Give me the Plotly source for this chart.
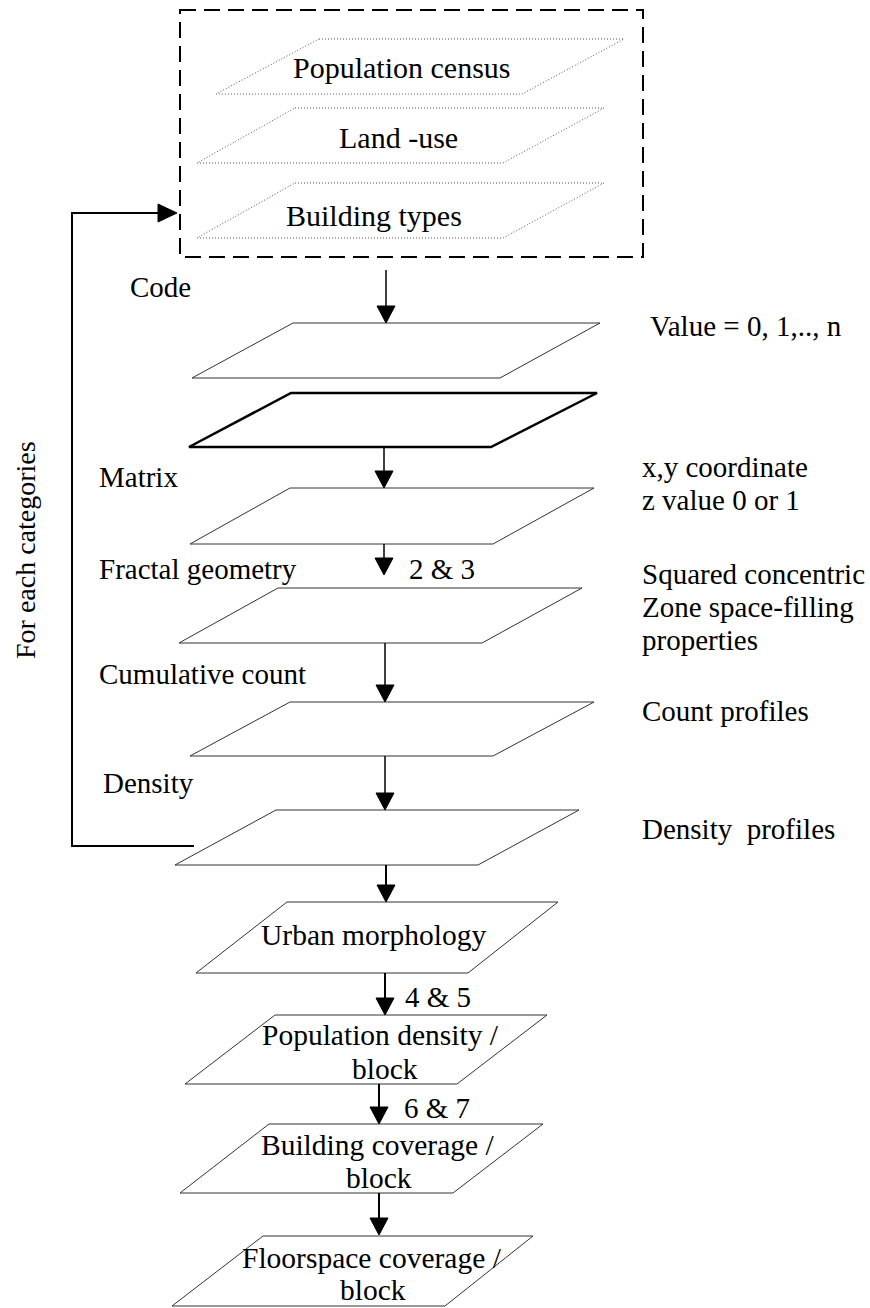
import plotly.graph_objects as go

# ---------------- data (labels) ----------------
input_layers = ["Population census", "Land -use", "Building types"]
step_labels = ["Code", "Matrix", "Fractal geometry", "Cumulative count", "Density"]
side_notes = ["Value = 0, 1,.., n", "x,y coordinate", "z value 0 or 1",
              "Squared concentric", "Zone space-filling", "properties",
              "Count profiles", "Density  profiles"]
equation_refs = ["2 & 3", "4 & 5", "6 & 7"]
output_boxes = [["Urban morphology"], ["Population density /", "block"],
                ["Building coverage /", "block"], ["Floorspace coverage /", "block"]]
loop_label = "For each categories"

# ---------------- layout geometry ----------------
W, H = 870, 1308
# parallelograms: (top_y, bottom_y, top_left_x, top_right_x, bottom_left_x, bottom_right_x)
dotted_par = [(39, 94, 319, 624, 216, 522),
              (108, 163, 295, 604, 197, 503),
              (183, 238, 295, 604, 197, 503)]
stack_par = [(323, 378, 293, 600, 192, 500),
             (393, 447, 291, 597, 189, 491),
             (488, 544, 290, 594, 190, 493),
             (588, 643, 278, 582, 179, 482),
             (702, 756, 290, 594, 190, 493),
             (810, 865, 276, 579, 175, 478)]
bold_index = 1
lower_par = [(902, 973, 287, 558, 196, 468),
             (1015, 1084, 275, 547, 185, 457),
             (1124, 1193, 269, 543, 180, 453),
             (1236, 1306, 263, 533, 172, 445)]
arrows = [(386, 270, 323, 1.5), (384, 447, 488, 1.5), (384, 544, 575, 1.5),
          (385, 643, 702, 1.5), (385, 756, 810, 1.5), (386, 865, 902, 2),
          (385, 973, 1015, 2), (379, 1084, 1124, 2), (379, 1193, 1235, 2)]

fig = go.Figure()
shapes = []
annots = []

def par_path(p):
    ty, by, tl, tr, bl, br = p
    return f"M {tl} {ty} L {tr} {ty} L {br} {by} L {bl} {by} Z"

# dashed input box
shapes.append(dict(type="rect", x0=180, x1=643, y0=10, y1=257,
                   line=dict(color="black", width=2, dash="16px,8px")))
for p in dotted_par:
    shapes.append(dict(type="path", path=par_path(p),
                       line=dict(color="#555555", width=1, dash="1px,2px")))
for i, p in enumerate(stack_par):
    w = 2.5 if i == bold_index else 1
    c = "black" if i == bold_index else "#333333"
    shapes.append(dict(type="path", path=par_path(p), line=dict(color=c, width=w)))
for p in lower_par:
    shapes.append(dict(type="path", path=par_path(p), line=dict(color="#333333", width=1)))

def arrow_head_down(x, y, hw=9, hl=17):
    return dict(type="path", path=f"M {x-hw} {y-hl} L {x+hw} {y-hl} L {x} {y} Z",
                fillcolor="black", line=dict(color="black", width=1))

for x, y0, y1, w in arrows:
    shapes.append(dict(type="line", x0=x, x1=x, y0=y0, y1=y1 - 10,
                       line=dict(color="black", width=w)))
    shapes.append(arrow_head_down(x, y1))

# feedback loop
shapes.append(dict(type="path", path="M 194 846 L 72 846 L 72 213 L 160 213",
                   line=dict(color="black", width=2)))
shapes.append(dict(type="path", path="M 158 204 L 158 222 L 177 213 Z",
                   fillcolor="black", line=dict(color="black", width=1)))

FONT = "Liberation Serif"

def txt(s, x, y, anchor="left", size=29, angle=0):
    annots.append(dict(text=s, x=x, y=y, xref="x", yref="y", showarrow=False,
                       xanchor=anchor, yanchor="middle", textangle=angle,
                       font=dict(family=FONT, size=size, color="black")))

# input layer labels
for s, (x, y) in zip(input_layers, [(402, 67), (398, 137), (374, 215)]):
    txt(s, x, y, anchor="center", size=30)

# step labels
for s, (x, y) in zip(step_labels, [(128, 287), (97, 477), (97, 569), (97, 674), (101, 783)]):
    txt(s, x, y)

# side notes
side_pos = [(648, 326), (640, 467), (640, 500), (640, 574), (640, 607), (640, 640),
            (640, 711), (640, 829)]
for s, (x, y) in zip(side_notes, side_pos):
    txt(s, x, y, size=29)

# equation references
for s, (x, y) in zip(equation_refs, [(407, 569), (403, 997), (402, 1108)]):
    txt(s, x, y, size=29)

# output boxes
out_pos = [[(374, 935)], [(380, 1035), (385, 1069)],
           [(377, 1145), (379, 1178)], [(372, 1258), (373, 1290)]]
for lines, poss in zip(output_boxes, out_pos):
    for s, (x, y) in zip(lines, poss):
        txt(s, x, y, anchor="center", size=29.5)

# loop label
txt(loop_label, 25, 550, anchor="center", size=28, angle=-90)

fig.update_layout(
    width=W, height=H, margin=dict(l=0, r=0, t=0, b=0),
    paper_bgcolor="white", plot_bgcolor="white",
    xaxis=dict(range=[0, W], visible=False, fixedrange=True),
    yaxis=dict(range=[H, 0], visible=False, fixedrange=True),
    shapes=shapes, annotations=annots, showlegend=False,
)
fig.write_html("out.html", config={"displayModeBar": False},
               post_script="document.body.style.margin='0';document.body.style.overflow='hidden';")
